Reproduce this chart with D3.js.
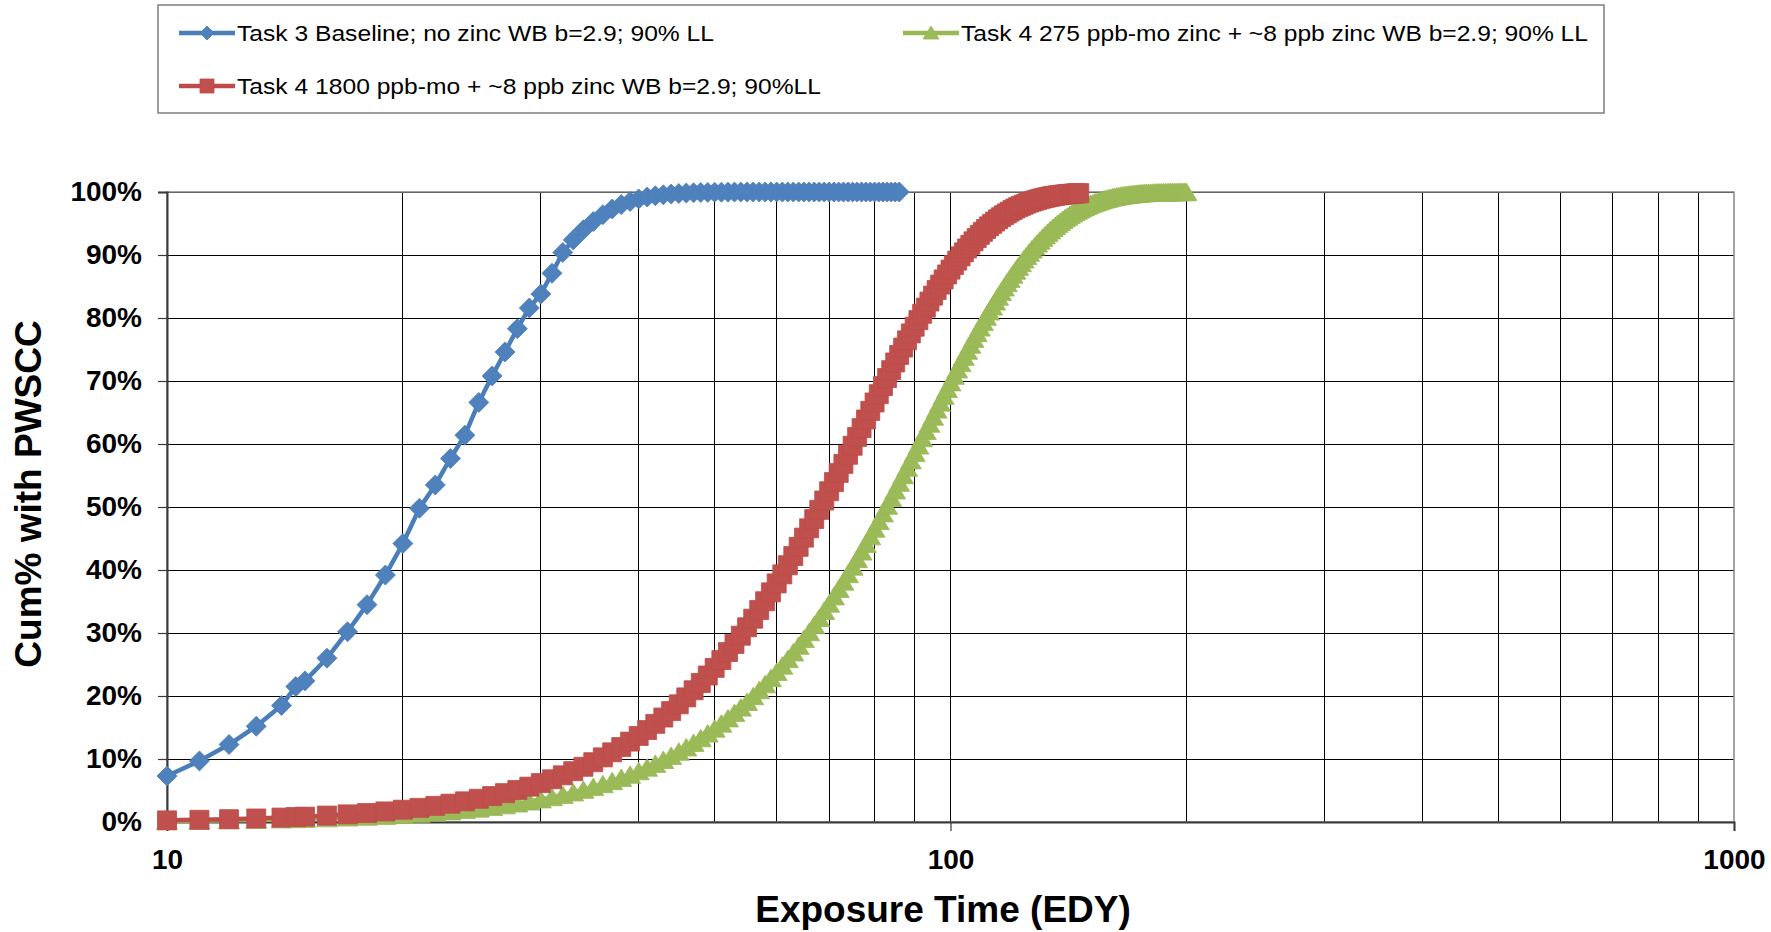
<!DOCTYPE html>
<html>
<head>
<meta charset="utf-8">
<script src="https://cdn.jsdelivr.net/npm/d3@7/dist/d3.min.js"></script>
<style>
body { margin: 0; background: #fff; }
text { font-family: "Liberation Sans", Arial, sans-serif; }
</style>
</head>
<body>
<div id="chart"></div>
<script>
// series (x = exposure time EDY, y = cum % with PWSCC)
const blueX = [10,11,12,13,14,14.6,15,16,17,18,19,20,21,22,23,24,25,26,27,28,29,30,31,32,33,34,35,36,37,38,39,40,
  41,42,43,44,45,46,47,48,49,50,51,52,53,54,55,56,57,58,59,60,61,62,63,64,65,66,67,68,69,70,
  71,72,73,74,75,76,77,78,79,80,81,82,83,84,85,86];
const blueY = [7.3,9.7,12.3,15.2,18.5,21.5,22.4,26.0,30.2,34.5,39.2,44.2,49.8,53.5,57.7,61.4,66.6,70.8,74.6,78.3,81.6,83.8,87.1,90.4,92.4,94.0,95.3,96.4,97.3,98.0,98.5,98.9,
  99.2,99.4,99.55,99.67,99.76,99.83,99.88,99.92,99.94,99.96,99.97,99.98,99.99,99.99,100,100,100,100,100,100,100,100,100,100,100,100,100,100,100,100,
  100,100,100,100,100,100,100,100,100,100,100,100,100,100,100,100];

const redX = [10,11,12,13,14,14.6,15,16,17,18,19,20,21,22,23,24,25,26,27,28,29,30,31,32,33,34,35,36,37,38,39,40,
  41,42,43,44,45,46,47,48,49,50,51,52,53,54,55,56,57,58,59,60,61,62,63,64,65,66,67,68,69,70,
  71,72,73,74,75,76,77,78,79,80,81,82,83,84,85,86,87,88,89,90,91,92,93,94,95,96,97,98,99,100,
  101,102,103,104,105,106,107,108,109,110,111,112,113,114,115,116,117,118,119,120,121,122,123,124,125,
  126,127,128,129,130,131,132,133,134,135,136,137,138,139,140,141,142,143,144,145,146];
const redY = [0.26,0.35,0.45,0.56,0.70,0.79,0.85,1.02,1.21,1.43,1.68,1.95,2.24,2.56,2.91,3.28,3.69,4.12,4.58,5.08,5.61,6.18,6.78,7.41,8.07,8.76,9.49,10.26,11.06,11.90,12.76,13.66,
  14.60,15.58,16.58,17.61,18.68,19.78,20.91,22.07,23.25,24.46,25.70,26.97,28.26,29.57,30.91,32.27,33.65,35.04,36.45,37.87,39.31,40.76,42.22,43.68,45.14,46.61,48.08,49.55,51.03,52.50,
  53.96,55.41,56.85,58.29,59.72,61.13,62.52,63.89,65.25,66.59,67.91,69.20,70.47,71.72,72.94,74.14,75.31,76.45,77.55,78.62,79.66,80.67,81.65,82.61,83.55,84.45,85.31,86.12,86.91,87.68,
  88.41,89.11,89.78,90.42,91.04,91.62,92.17,92.69,93.20,93.68,94.13,94.55,94.94,95.31,95.67,96.00,96.31,96.60,96.88,97.14,97.38,97.60,97.80,97.99,98.17,
  98.33,98.48,98.62,98.75,98.87,98.98,99.08,99.17,99.25,99.33,99.40,99.46,99.51,99.56,99.61,99.65,99.69,99.72,99.76,99.79,99.81];

const greenX = [10,11,12,13,14,14.6,15,16,17,18,19,20,21,22,23,24,25,26,27,28,29,30,31,32,33,34,35,36,37,38,39,40,
  41,42,43,44,45,46,47,48,49,50,51,52,53,54,55,56,57,58,59,60,61,62,63,64,65,66,67,68,69,70,
  71,72,73,74,75,76,77,78,79,80,81,82,83,84,85,86,87,88,89,90,91,92,93,94,95,96,97,98,99,100,
  101,102,103,104,105,106,107,108,109,110,111,112,113,114,115,116,117,118,119,120,121,122,123,124,125,
  126,127,128,129,130,131,132,133,134,135,136,137,138,139,140,141,142,143,144,145,146,147,148,149,150,
  151,152,153,154,155,156,157,158,159,160,161,162,163,164,165,166,167,168,169,170,171,172,173,174,175,
  176,177,178,179,180,181,182,183,184,185,186,187,188,189,190,191,192,193,194,195,196,197,198,199,200];
const greenY = [0.15,0.20,0.26,0.32,0.40,0.45,0.49,0.59,0.70,0.83,0.97,1.12,1.29,1.48,1.68,1.89,2.12,2.37,2.64,2.93,3.24,3.58,3.93,4.30,4.69,5.10,5.54,6.00,6.48,6.98,7.50,8.05,
  8.62,9.22,9.84,10.48,11.14,11.83,12.54,13.28,14.03,14.81,15.61,16.44,17.29,18.16,19.05,19.96,20.90,21.85,22.82,23.81,24.82,25.85,26.90,27.96,29.04,30.13,31.24,32.36,33.50,34.65,
  35.81,36.98,38.15,39.33,40.52,41.72,42.92,44.13,45.34,46.55,47.76,48.98,50.19,51.41,52.62,53.83,55.03,56.22,57.40,58.58,59.75,60.91,62.06,63.21,64.34,65.46,66.56,67.64,68.72,69.78,
  70.82,71.84,72.84,73.83,74.80,75.75,76.68,77.59,78.48,79.35,80.20,81.02,81.82,82.61,83.38,84.12,84.84,85.53,86.21,86.87,87.51,88.12,88.71,89.28,89.83,
  90.36,90.86,91.34,91.81,92.27,92.70,93.11,93.51,93.89,94.26,94.61,94.94,95.25,95.55,95.82,96.09,96.34,96.58,96.81,97.02,97.22,97.41,97.59,97.77,97.93,
  98.08,98.22,98.35,98.47,98.59,98.70,98.80,98.89,98.98,99.07,99.15,99.22,99.28,99.34,99.40,99.45,99.50,99.54,99.58,99.62,99.65,99.68,99.71,99.74,99.77,
  99.79,99.81,99.83,99.85,99.86,99.87,99.88,99.89,99.91,99.92,99.93,99.93,99.94,99.94,99.95,99.96,99.96,99.97,99.97,99.98,99.98,99.98,99.99,99.99,99.99];

const seriesNames = [
  "Task 3 Baseline; no zinc WB b=2.9; 90% LL",
  "Task 4 275 ppb-mo zinc + ~8 ppb zinc WB b=2.9; 90% LL",
  "Task 4 1800 ppb-mo + ~8 ppb zinc WB b=2.9; 90%LL"
];
const xTickValues = [10, 100, 1000];
const xGridValues = [20,30,40,50,60,70,80,90,200,300,400,500,600,700,800,900];
const yTickValues = [0,10,20,30,40,50,60,70,80,90,100];

const boxWidth = 1771;
const boxHeight = 932;
const plot = {left: 167, right: 1734, top: 192, bottom: 822};

let svg = d3.select("#chart")
  .append("svg")
  .attr("width", boxWidth)
  .attr("height", boxHeight)
  .style("background", "#fff");

let xScale = d3.scaleLog().domain([10, 1000]).range([plot.left, plot.right]);
let yScale = d3.scaleLinear().domain([0, 100]).range([plot.bottom, plot.top]);

// gridlines
let grid = svg.append("g").attr("shape-rendering", "crispEdges");
grid.selectAll("line.hg")
  .data(yTickValues.filter(d => d > 0))
  .enter().append("line")
  .attr("x1", plot.left).attr("x2", plot.right)
  .attr("y1", d => yScale(d)).attr("y2", d => yScale(d))
  .attr("stroke", "#000").attr("stroke-width", 1);
grid.selectAll("line.vg")
  .data(xGridValues.concat([100]))
  .enter().append("line")
  .attr("y1", plot.top).attr("y2", plot.bottom)
  .attr("x1", d => xScale(d)).attr("x2", d => xScale(d))
  .attr("stroke", "#000").attr("stroke-width", 1);

// plot border
svg.append("rect")
  .attr("x", plot.left).attr("y", plot.top)
  .attr("width", plot.right - plot.left).attr("height", plot.bottom - plot.top)
  .attr("fill", "none").attr("stroke", "#868686").attr("stroke-width", 1.5);

// axes
let xAxis = d3.axisBottom(xScale).tickValues(xTickValues).tickFormat(d3.format("d")).tickSize(9).tickPadding(14);
let yAxis = d3.axisLeft(yScale).tickValues(yTickValues).tickFormat(d => d + "%").tickSize(9).tickPadding(16);

let gx = svg.append("g").attr("transform", `translate(0, ${plot.bottom})`).call(xAxis);
let gy = svg.append("g").attr("transform", `translate(${plot.left}, 0)`).call(yAxis);
[gx, gy].forEach(g => {
  g.select(".domain").attr("stroke", "#3a3a3a").attr("stroke-width", 2);
  g.selectAll(".tick line").attr("stroke", "#3a3a3a").attr("stroke-width", 1.2);
  g.selectAll(".tick text")
    .attr("fill", "#000")
    .style("font-family", "'Liberation Sans', Arial, sans-serif")
    .style("font-weight", "bold")
    .style("font-size", "28px");
});
gx.selectAll(".tick text").attr("dy", "0.85em");

// axis titles
svg.append("text")
  .attr("x", 943).attr("y", 922)
  .attr("text-anchor", "middle")
  .style("font-weight", "bold").style("font-size", "37px")
  .text("Exposure Time (EDY)");
svg.append("text")
  .attr("transform", "translate(41, 494) rotate(-90)")
  .attr("text-anchor", "middle")
  .style("font-weight", "bold").style("font-size", "37px")
  .text("Cum% with PWSCC");

// marker shapes
const shapes = {
  diamond: "M0,-10L10,0L0,10L-10,0Z",
  square: "M-9.5,-9.5H9.5V9.5H-9.5Z",
  triangle: "M0,-9L10.5,8.5H-10.5Z"
};
const smallShapes = {
  diamond: "M0,-7L7,0L0,7L-7,0Z",
  square: "M-7,-7H7V7H-7Z",
  triangle: "M0,-7L8,6H-8Z"
};

let series = [
  {name: seriesNames[0], xs: blueX, ys: blueY, line: "#4A7EBB", fill: "#4F81BD", shape: "diamond"},
  {name: seriesNames[1], xs: greenX, ys: greenY, line: "#98B954", fill: "#9BBB59", shape: "triangle"},
  {name: seriesNames[2], xs: redX, ys: redY, line: "#BE4B48", fill: "#C0504D", shape: "square"}
];

let lineGen = d3.line().x(d => xScale(d[0])).y(d => yScale(d[1]));

series.forEach(s => {
  let pts = s.xs.map((v, i) => [v, s.ys[i]]);
  let g = svg.append("g");
  g.append("path")
    .datum(pts)
    .attr("d", lineGen)
    .attr("fill", "none")
    .attr("stroke", s.line)
    .attr("stroke-width", 4.5)
    .attr("stroke-linejoin", "round");
  g.selectAll("path.m")
    .data(pts)
    .enter().append("path")
    .attr("class", "m")
    .attr("d", shapes[s.shape])
    .attr("transform", d => `translate(${xScale(d[0])}, ${yScale(d[1])})`)
    .attr("fill", s.fill)
    .attr("stroke", s.line)
    .attr("stroke-width", 0.8);
});

// legend
let legend = svg.append("g");
legend.append("rect")
  .attr("x", 158).attr("y", 5)
  .attr("width", 1446).attr("height", 108)
  .attr("fill", "#fff").attr("stroke", "#7f7f7f").attr("stroke-width", 1.5);

let legendPos = [
  {x: 179, y: 33, w: 477},
  {x: 903, y: 33, w: 627},
  {x: 179, y: 86, w: 584}
];
series.forEach((s, i) => {
  let p = legendPos[i];
  let lg = legend.append("g").attr("transform", `translate(${p.x}, ${p.y})`);
  lg.append("line")
    .attr("x1", 0).attr("x2", 56).attr("y1", 0).attr("y2", 0)
    .attr("stroke", s.line).attr("stroke-width", 4.5);
  lg.append("path")
    .attr("d", smallShapes[s.shape])
    .attr("transform", "translate(28, 0)")
    .attr("fill", s.fill).attr("stroke", s.line).attr("stroke-width", 0.8);
  lg.append("text")
    .attr("x", 58).attr("y", 8)
    .attr("textLength", p.w)
    .attr("lengthAdjust", "spacingAndGlyphs")
    .style("font-size", "22px")
    .attr("fill", "#000")
    .text(s.name);
});
</script>
</body>
</html>
